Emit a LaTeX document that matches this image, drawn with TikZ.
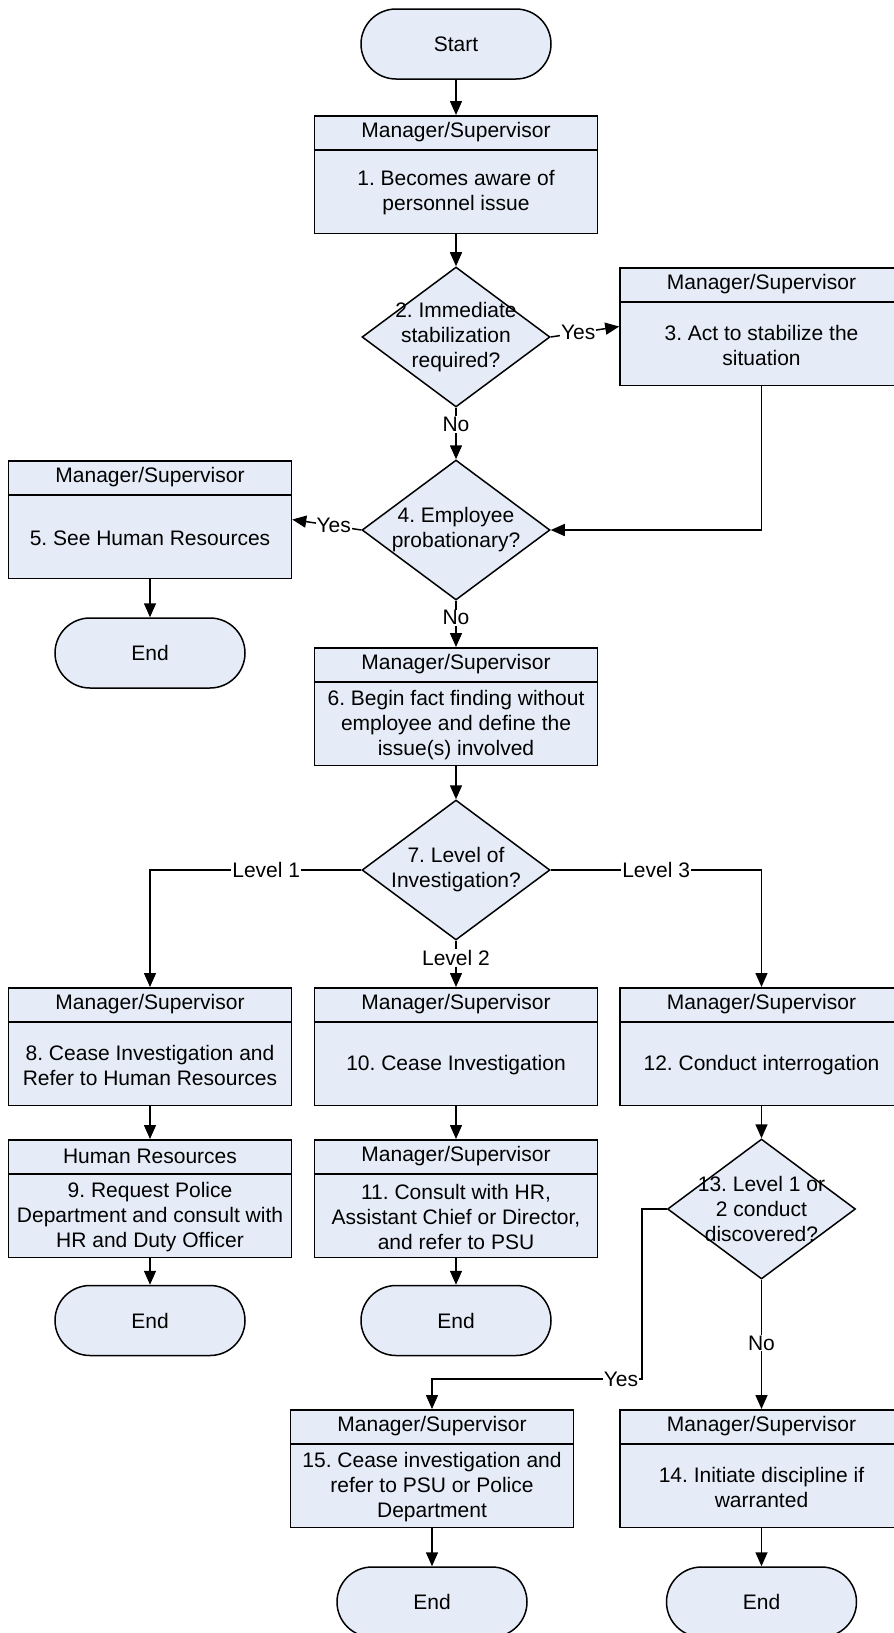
\documentclass[tikz,border=0pt]{standalone}
\usepackage{fontspec}
\setmainfont{Liberation Sans}
\usetikzlibrary{shapes.geometric,arrows.meta}
\definecolor{shapefill}{RGB}{230,236,247}
\frenchspacing

\tikzset{
  outline/.style={draw=black, line width=1.5pt},
  terminal/.style={outline, fill=shapefill, rectangle, rounded corners=35pt,
    minimum width=190pt, minimum height=70pt, inner sep=0pt,
    font=\fontsize{21}{25}\selectfont},
  procbox/.style={outline, fill=shapefill, rectangle, minimum width=283pt,
    minimum height=117.5pt, inner sep=0pt},
  decision/.style={outline, fill=shapefill, diamond, minimum width=188pt,
    minimum height=140pt, inner sep=0pt},
  txt/.style={inner sep=0pt, align=center, font=\fontsize{21}{25}\selectfont},
  lbl/.style={txt, fill=white, inner sep=1pt},
  flow/.style={line width=1.5pt, -{Triangle[length=14pt,width=12pt]}},
}

% Box with a header band and a body text
\newcommand\swimbox[5]{%
  \node[procbox, anchor=north] (#1) at (#2,#3) {};
  \draw[line width=1.5pt] ([yshift=-35pt]#1.north west) -- ([yshift=-35pt]#1.north east);
  \node[txt] (#1h) at ([yshift=-17.5pt]#1.north) {#4};
  \node[txt] (#1t) at ([yshift=41pt]#1.south) {#5};
}

\begin{document}
\begin{tikzpicture}[x=1pt, y=-1pt]
\useasboundingbox (0,0) rectangle (894,1633);
\clip (0,0) rectangle (894,1633);

% start
\node[terminal] (start) at (456,44) {Start};
\swimbox{b1}{456}{115}{Manager/Supervisor}{1. Becomes aware of\\personnel issue}

% stabilization decision
\node[decision] (d2) at (456,337) {};
\node[txt] (d2t) at (d2) {2. Immediate\\stabilization\\required?};
\swimbox{b3}{761.5}{267}{Manager/Supervisor}{3. Act to stabilize the\\situation}

% probationary decision
\node[decision] (d4) at (456,530) {};
\node[txt] (d4t) at (d4) {4. Employee\\probationary?};
\swimbox{b5}{150}{460}{Manager/Supervisor}{5. See Human Resources}
\node[terminal] (e1) at (150,653) {End};

\swimbox{b6}{456}{647}{Manager/Supervisor}{6. Begin fact finding without\\employee and define the\\issue(s) involved}

% level of investigation
\node[decision] (d7) at (456,870) {};
\node[txt] (d7t) at (d7) {7. Level of\\Investigation?};

% level 1 branch
\swimbox{b8}{150}{987}{Manager/Supervisor}{8. Cease Investigation and\\Refer to Human Resources}
\swimbox{b9}{150}{1139}{Human Resources}{9. Request Police\\Department and consult with\\HR and Duty Officer}
\node[terminal] (e2) at (150,1320.5) {End};

% level 2 branch
\swimbox{b10}{456}{987}{Manager/Supervisor}{10. Cease Investigation}
\swimbox{b11}{456}{1139}{Manager/Supervisor}{11. Consult with HR,\\Assistant Chief or Director,\\and refer to PSU}
\node[terminal] (e3) at (456,1320.5) {End};

% level 3 branch
\swimbox{b12}{761.5}{987}{Manager/Supervisor}{12. Conduct interrogation}
\node[decision] (d13) at (761.5,1209) {};
\node[txt] (d13t) at (d13) {13. Level 1 or\\2 conduct\\discovered?};
\swimbox{b15}{432}{1409}{Manager/Supervisor}{15. Cease investigation and\\refer to PSU or Police\\Department}
\swimbox{b14}{761.5}{1409}{Manager/Supervisor}{14. Initiate discipline if\\warranted}
\node[terminal] (e4) at (432,1602) {End};
\node[terminal] (e5) at (761.5,1602) {End};

\coordinate (yesturn) at (642,1379);

% connectors
\draw[flow] (start) -- (b1);
\draw[flow] (b1) -- (d2);
\draw[flow] (d2.east) -- node[lbl, pos=0.4] {Yes} (b3.west);
\draw[flow] (d2.south) -- node[lbl, pos=0.33] {No} (d4.north);
\draw[flow] (b3.south) |- (d4.east);
\draw[flow] (d4.west) -- node[lbl, pos=0.4] {Yes} (b5.east);
\draw[flow] (b5) -- (e1);
\draw[flow] (d4.south) -- node[lbl, pos=0.37] {No} (b6.north);
\draw[flow] (b6) -- (d7);
\draw[flow] (d7.west) -| node[lbl, pos=0.225] {Level 1} (b8.north);
\draw[flow] (d7.south) -- node[lbl, pos=0.37] {Level 2} (b10.north);
\draw[flow] (d7.east) -| node[lbl, pos=0.25] {Level 3} (b12.north);
\draw[flow] (b8) -- (b9);
\draw[flow] (b9) -- (e2);
\draw[flow] (b10) -- (b11);
\draw[flow] (b11) -- (e3);
\draw[flow] (b12) -- (d13);
\draw[flow] (d13.west) -| (yesturn) -| node[lbl, pos=0.05] {Yes} (b15.north);
\draw[flow] (d13.south) -- node[lbl, pos=0.49] {No} (b14.north);
\draw[flow] (b15) -- (e4);
\draw[flow] (b14) -- (e5);
\end{tikzpicture}
\end{document}
